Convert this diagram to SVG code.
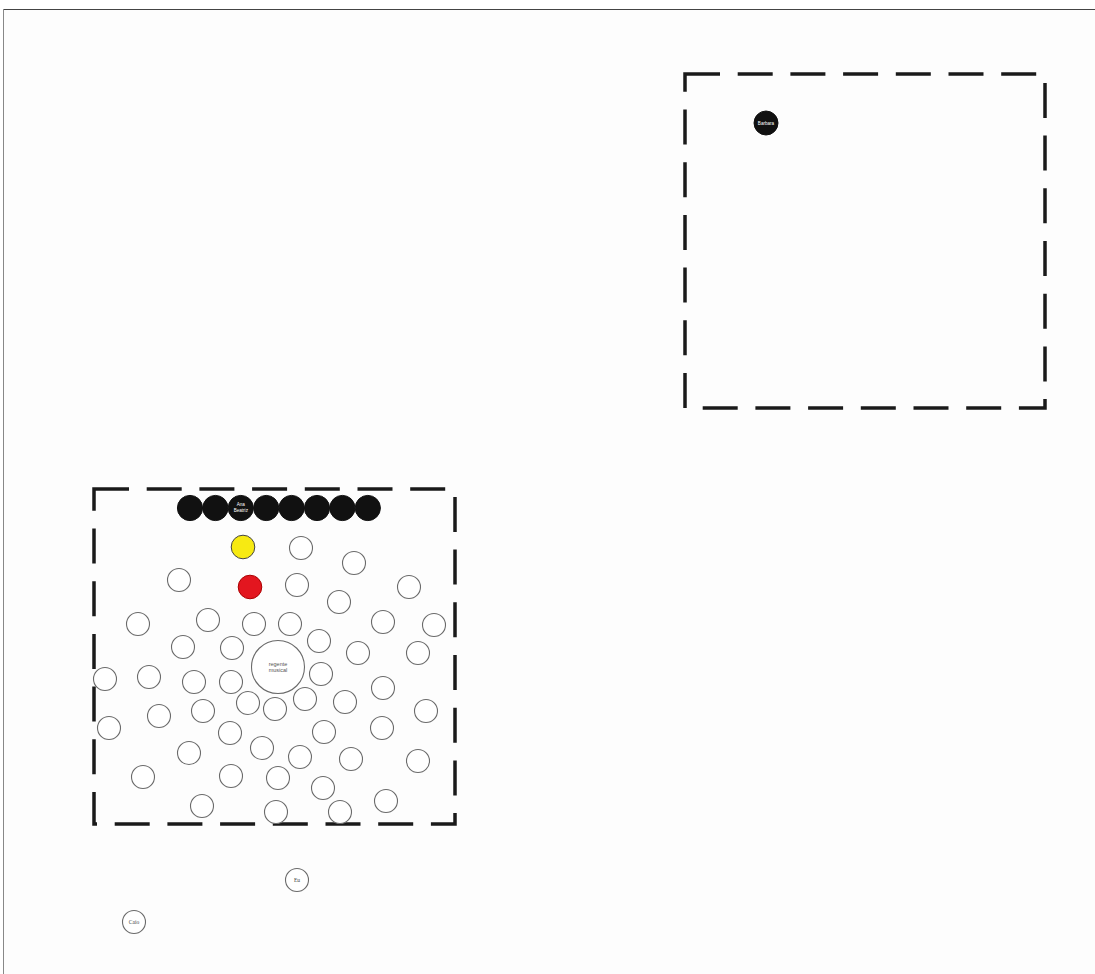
<svg xmlns="http://www.w3.org/2000/svg" width="1095" height="974" viewBox="0 0 1095 974">
<style>
.frame{stroke:#444;stroke-width:1.2;fill:none}
.zone{fill:none;stroke:#1a1a1a;stroke-width:3.5;stroke-dasharray:35 17.7}
.seat{fill:#fff;stroke:#6a6a6a;stroke-width:1.1}
.blk{fill:#111;stroke:#111;stroke-width:1}
.yel{fill:#f7ea12;stroke:#444;stroke-width:1}
.red{fill:#e3161f;stroke:#a00;stroke-width:1}
.wt{fill:#fff;font-family:"Liberation Sans",Arial,sans-serif;font-size:4.6px;text-anchor:middle}
.gt{fill:#555;font-family:"Liberation Sans",Arial,sans-serif;font-size:5.5px;text-anchor:middle}
.st{fill:#444;font-family:"Liberation Serif","Times New Roman",serif;font-size:5.5px;text-anchor:middle}
</style>
<rect x="0" y="0" width="1095" height="974" fill="#fff"/>
<rect x="3.5" y="9.5" width="1092" height="965" fill="#fdfdfd"/>
<g id="frame">
<line class="frame" x1="3" y1="9.5" x2="1095" y2="9.5"/>
<line x1="3.5" y1="9" x2="3.5" y2="974" stroke="#888" stroke-width="1"/>
</g>
<g id="zone-top-right">
<rect class="zone" x="685" y="74" width="360" height="334"/>
</g>
<g id="node-barbara">
<circle class="blk" cx="766" cy="123" r="12"/>
<text class="wt" x="766" y="124.6">Barbara</text>
</g>
<g id="zone-bottom-left">
<rect class="zone" x="94" y="489" width="361" height="335"/>
</g>
<g id="front-row">
<circle class="blk" cx="190" cy="508" r="12.6"/>
<circle class="blk" cx="215.4" cy="508" r="12.6"/>
<g id="node-ana-beatriz">
<circle class="blk" cx="240.8" cy="508" r="12.6"/>
<text class="wt" x="240.8" y="506">Ana</text>
<text class="wt" x="240.8" y="511.5">Beatriz</text>
</g>
<circle class="blk" cx="266.2" cy="508" r="12.6"/>
<circle class="blk" cx="291.6" cy="508" r="12.6"/>
<circle class="blk" cx="317" cy="508" r="12.6"/>
<circle class="blk" cx="342.4" cy="508" r="12.6"/>
<circle class="blk" cx="367.8" cy="508" r="12.6"/>
</g>
<g id="node-yellow"><circle class="yel" cx="243" cy="547" r="11.8"/></g>
<g id="node-red"><circle class="red" cx="250" cy="587" r="11.8"/></g>
<g id="node-regente">
<circle class="seat" cx="278" cy="667" r="26.5"/>
<text class="gt" x="278" y="665.5">regente</text>
<text class="gt" x="278" y="672">musical</text>
</g>
<g id="seats">
<circle class="seat" cx="179" cy="580" r="11.5"/>
<circle class="seat" cx="301" cy="548" r="11.5"/>
<circle class="seat" cx="354" cy="563" r="11.5"/>
<circle class="seat" cx="297" cy="585" r="11.5"/>
<circle class="seat" cx="409" cy="587" r="11.5"/>
<circle class="seat" cx="339" cy="602" r="11.5"/>
<circle class="seat" cx="138" cy="624" r="11.5"/>
<circle class="seat" cx="208" cy="620" r="11.5"/>
<circle class="seat" cx="254" cy="624" r="11.5"/>
<circle class="seat" cx="290" cy="624" r="11.5"/>
<circle class="seat" cx="383" cy="622" r="11.5"/>
<circle class="seat" cx="434" cy="625" r="11.5"/>
<circle class="seat" cx="183" cy="647" r="11.5"/>
<circle class="seat" cx="232" cy="648" r="11.5"/>
<circle class="seat" cx="319" cy="641" r="11.5"/>
<circle class="seat" cx="358" cy="653" r="11.5"/>
<circle class="seat" cx="418" cy="653" r="11.5"/>
<circle class="seat" cx="105" cy="679" r="11.5"/>
<circle class="seat" cx="149" cy="677" r="11.5"/>
<circle class="seat" cx="194" cy="682" r="11.5"/>
<circle class="seat" cx="231" cy="682" r="11.5"/>
<circle class="seat" cx="321" cy="674" r="11.5"/>
<circle class="seat" cx="383" cy="688" r="11.5"/>
<circle class="seat" cx="248" cy="703" r="11.5"/>
<circle class="seat" cx="275" cy="709" r="11.5"/>
<circle class="seat" cx="305" cy="699" r="11.5"/>
<circle class="seat" cx="345" cy="702" r="11.5"/>
<circle class="seat" cx="159" cy="716" r="11.5"/>
<circle class="seat" cx="203" cy="711" r="11.5"/>
<circle class="seat" cx="426" cy="711" r="11.5"/>
<circle class="seat" cx="109" cy="728" r="11.5"/>
<circle class="seat" cx="230" cy="733" r="11.5"/>
<circle class="seat" cx="324" cy="732" r="11.5"/>
<circle class="seat" cx="382" cy="728" r="11.5"/>
<circle class="seat" cx="189" cy="753" r="11.5"/>
<circle class="seat" cx="262" cy="748" r="11.5"/>
<circle class="seat" cx="300" cy="757" r="11.5"/>
<circle class="seat" cx="351" cy="759" r="11.5"/>
<circle class="seat" cx="418" cy="761" r="11.5"/>
<circle class="seat" cx="143" cy="777" r="11.5"/>
<circle class="seat" cx="231" cy="776" r="11.5"/>
<circle class="seat" cx="278" cy="778" r="11.5"/>
<circle class="seat" cx="323" cy="788" r="11.5"/>
<circle class="seat" cx="202" cy="806" r="11.5"/>
<circle class="seat" cx="276" cy="812" r="11.5"/>
<circle class="seat" cx="340" cy="812" r="11.5"/>
<circle class="seat" cx="386" cy="801" r="11.5"/>
</g>
<g id="node-eu">
<circle class="seat" cx="297" cy="880" r="11.5"/>
<text class="st" x="297" y="882">Eu</text>
</g>
<g id="node-caio">
<circle class="seat" cx="134" cy="922" r="11.5"/>
<text class="st" x="134" y="924">Caio</text>
</g>
<g id="connectors"></g>
</svg>
